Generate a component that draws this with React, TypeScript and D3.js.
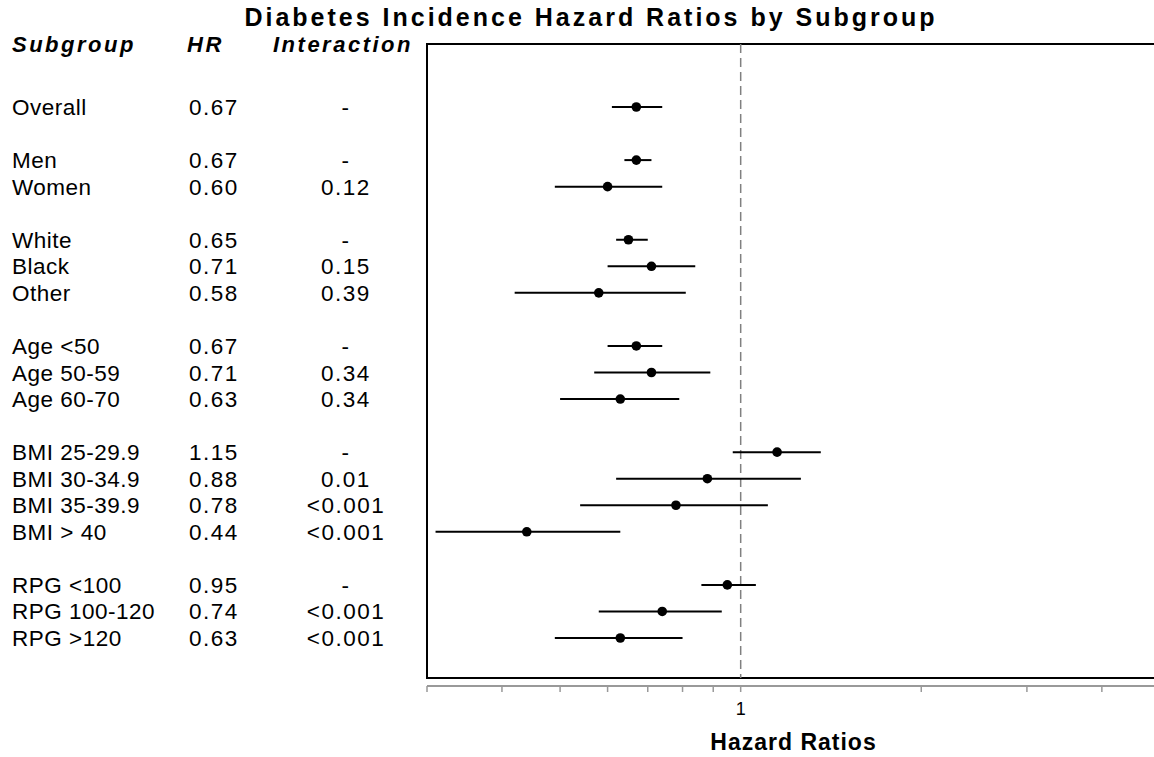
import * as d3 from "d3";

// rows of the forest plot, top to bottom
const labels = ["Overall", "Men", "Women", "White", "Black", "Other", "Age <50", "Age 50-59", "Age 60-70",
  "BMI 25-29.9", "BMI 30-34.9", "BMI 35-39.9", "BMI > 40", "RPG <100", "RPG 100-120", "RPG >120"];
// row slot (blank slots are the gaps between groups)
const slots = [0, 2, 3, 5, 6, 7, 9, 10, 11, 13, 14, 15, 16, 18, 19, 20];
const hr = [0.67, 0.67, 0.60, 0.65, 0.71, 0.58, 0.67, 0.71, 0.63, 1.15, 0.88, 0.78, 0.44, 0.95, 0.74, 0.63];
const lower = [0.61, 0.64, 0.49, 0.62, 0.60, 0.42, 0.60, 0.57, 0.50, 0.97, 0.62, 0.54, 0.31, 0.86, 0.58, 0.49];
const upper = [0.74, 0.71, 0.74, 0.70, 0.84, 0.81, 0.74, 0.89, 0.79, 1.36, 1.26, 1.11, 0.63, 1.06, 0.93, 0.80];
const interaction = ["-", "-", "0.12", "-", "0.15", "0.39", "-", "0.34", "0.34",
  "-", "0.01", "<0.001", "<0.001", "-", "<0.001", "<0.001"];
const tickValues = [0.3, 0.4, 0.5, 0.6, 0.7, 0.8, 0.9, 1, 2, 3, 4, 5];
const tickLabels = ["1"];

const font = "'Liberation Sans', Arial, sans-serif";

const App = () => {
  let width = 1154, height = 757;
  let box = { left: 427, top: 44, right: 1160, bottom: 678 };

  let x = d3.scaleLog().domain([0.3, 5]).range([box.left, box.right]);
  let y = d3.scaleLinear().domain([0, 20]).range([107, 638]);
  let axisY = 686;

  return (
    <svg width={width} height={height} style={{ position: "absolute", left: 0, top: 0, background: "#fff" }}
      fontFamily={font}>
      <text x={591} y={26} textAnchor="middle" fontSize={25} fontWeight="bold" letterSpacing={3}>
        Diabetes Incidence Hazard Ratios by Subgroup
      </text>

      {/* column headers */}
      <g fontSize={22} fontWeight="bold" fontStyle="italic" letterSpacing={2.5}>
        <text x={12} y={52}>Subgroup</text>
        <text x={187} y={52}>HR</text>
        <text x={273} y={52}>Interaction</text>
      </g>

      {/* table text */}
      <g fontSize={22.5}>
        {labels.map((d, i) => (
          <g key={d} transform={`translate(0,${y(slots[i]) + 8})`}>
            <text x={12} letterSpacing={0.5}>{d}</text>
            <text x={189} letterSpacing={1.5}>{hr[i].toFixed(2)}</text>
            <text x={346} textAnchor="middle" letterSpacing={1.5}>{interaction[i]}</text>
          </g>
        ))}
      </g>

      {/* plot frame */}
      <rect x={box.left} y={box.top} width={box.right - box.left} height={box.bottom - box.top}
        fill="none" stroke="#000" strokeWidth={2} />
      <line x1={x(1)} x2={x(1)} y1={box.top} y2={box.bottom} stroke="#808080" strokeWidth={1.5}
        strokeDasharray="9,5" />

      {/* confidence intervals and estimates */}
      {labels.map((d, i) => (
        <g key={d}>
          <line x1={x(lower[i])} x2={x(upper[i])} y1={y(slots[i])} y2={y(slots[i])} stroke="#000" strokeWidth={2} />
          <circle cx={x(hr[i])} cy={y(slots[i])} r={4.8} fill="#000" />
        </g>
      ))}

      {/* x axis below the frame */}
      <line x1={box.left} x2={box.right} y1={axisY} y2={axisY} stroke="#999" strokeWidth={2} />
      {tickValues.map((t) => (
        <line key={t} x1={x(t)} x2={x(t)} y1={axisY} y2={axisY + 6} stroke="#999" strokeWidth={1.5} />
      ))}
      {tickLabels.map((t) => (
        <text key={t} x={x(+t)} y={715} textAnchor="middle" fontSize={18}>{t}</text>
      ))}
      <text x={(box.left + box.right) / 2} y={750} textAnchor="middle" fontSize={23} fontWeight="bold"
        letterSpacing={1}>
        Hazard Ratios
      </text>
    </svg>
  );
};

export default App;
